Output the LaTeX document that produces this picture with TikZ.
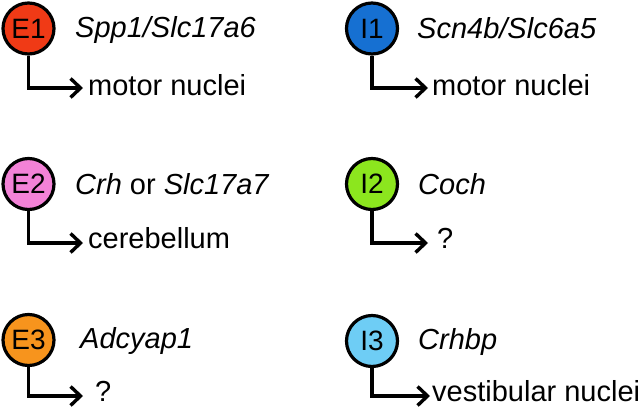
\documentclass[tikz,border=0pt]{standalone}
\usepackage{fontspec}
\setmainfont{Liberation Sans}
\usetikzlibrary{arrows.meta}
\definecolor{cE1}{RGB}{240,58,22}
\definecolor{cE2}{RGB}{243,130,215}
\definecolor{cE3}{RGB}{247,148,29}
\definecolor{cI1}{RGB}{22,112,210}
\definecolor{cI2}{RGB}{140,230,30}
\definecolor{cI3}{RGB}{110,205,245}
\tikzset{
  cell/.style={circle, draw=black, line width=3.2pt, minimum size=51pt, inner sep=0pt,
    font=\fontsize{28}{28}\selectfont},
  gene/.style={anchor=base west, inner sep=0pt, font=\fontsize{29}{29}\selectfont\itshape},
  target/.style={anchor=base west, inner sep=0pt, font=\fontsize{29}{29}\selectfont},
  proj/.style={line width=3.4pt, -{Straight Barb[length=10pt,width=19pt,line width=3.4pt]}}
}
\begin{document}
\begin{tikzpicture}[x=1pt,y=-1pt]
\useasboundingbox (0,0) rectangle (640,407);
% left column
\node[cell, fill=cE1] (E1) at (28.5,28.5) {E1};
\node[gene] (g1) at (75,37) {Spp1/Slc17a6};
\coordinate (t1) at (83,88);
\draw[proj] (E1.south) |- (t1);
\node[target] (l1) at (88,95) {motor nuclei};

\node[cell, fill=cE2] (E2) at (28.5,184) {E2};
\node[gene] (g2) at (75,194) {Crh {\upshape or} Slc17a7};
\coordinate (t2) at (83,243);
\draw[proj] (E2.south) |- (t2);
\node[target] (l2) at (88,248) {cerebellum};

\node[cell, fill=cE3] (E3) at (28.5,340) {E3};
\node[gene] (g3) at (80,348) {Adcyap1};
\coordinate (t3) at (83,396);
\draw[proj] (E3.south) |- (t3);
\node[target] (l3) at (95,401) {?};

% right column
\node[cell, fill=cI1] (I1) at (372,28.5) {I1};
\node[gene] (g4) at (417,38) {Scn4b/Slc6a5};
\coordinate (t4) at (428,88);
\draw[proj] (I1.south) |- (t4);
\node[target] (l4) at (432,95) {motor nuclei};

\node[cell, fill=cI2] (I2) at (372,184) {I2};
\node[gene] (g5) at (418,194) {Coch};
\coordinate (t5) at (428,243);
\draw[proj] (I2.south) |- (t5);
\node[target] (l5) at (437,248) {?};

\node[cell, fill=cI3] (I3) at (372,341) {I3};
\node[gene] (g6) at (418,349) {Crhbp};
\coordinate (t6) at (430,396);
\draw[proj] (I3.south) |- (t6);
\node[target] (l6) at (432,401) {vestibular nuclei};
\end{tikzpicture}
\end{document}
